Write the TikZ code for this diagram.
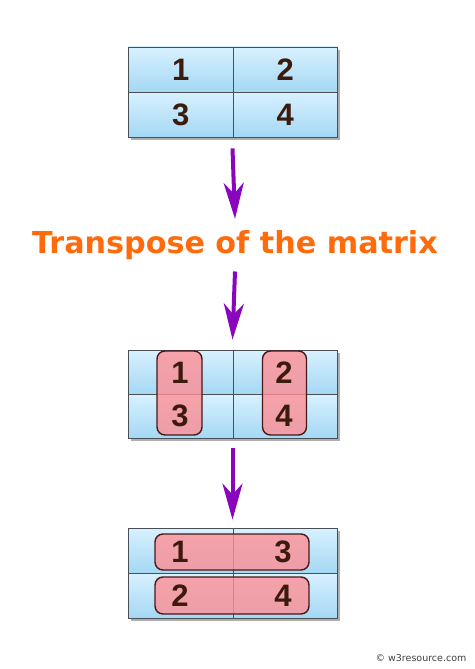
\documentclass[tikz,border=0pt]{standalone}
\usepackage{fontspec}
\setmainfont{Liberation Sans}
\newfontfamily\titlefont{DejaVu Sans}
\usetikzlibrary{arrows.meta,shadows}
\definecolor{cellTop}{HTML}{D8F1FF}
\definecolor{cellBot}{HTML}{A4D8F4}
\definecolor{gridc}{HTML}{4A4F55}
\definecolor{digit}{HTML}{3C1A0C}
\definecolor{pinkc}{HTML}{FE8F95}
\definecolor{pinkb}{HTML}{4A1818}
\definecolor{arrc}{HTML}{8A05BE}
\definecolor{titlec}{HTML}{FF6A0A}
\tikzset{
  frame/.style={draw=gridc, line width=0.8pt, fill=white, minimum width=209pt, minimum height=#1, inner sep=0pt,
    drop shadow={shadow xshift=3pt, shadow yshift=-3pt, opacity=0.45, fill=black!70}},
  cell/.style={draw=gridc, line width=0.6pt, top color=cellTop, bottom color=cellBot, minimum width=104.5pt, minimum height=#1, inner sep=0pt,
    font=\fontsize{31}{33}\selectfont\bfseries, text=digit},
  num/.style={font=\fontsize{31}{33}\selectfont\bfseries, text=digit, inner sep=0pt},
  pinkbox/.style={draw=pinkb, line width=1.4pt, fill=pinkc, fill opacity=0.8, rounded corners=8pt, inner sep=0pt},
  arr/.style={draw=arrc, line width=4pt, -{Stealth[length=36pt,width=20pt,inset=11pt]}},
}
\begin{document}
\begin{tikzpicture}[x=1pt,y=-1pt]
\useasboundingbox (0,0) rectangle (474,669);
% top matrix
\node[frame=90pt] (m1) at (232.5,92) {};
\node[cell=45pt] (a11) at (180.75,69.5) {1};
\node[cell=45pt] (a12) at (285.25,69.5) {2};
\node[cell=45pt] (a21) at (180.75,114.5) {3};
\node[cell=45pt] (a22) at (285.25,114.5) {4};
% title
\node[anchor=base, inner sep=0pt, text=titlec, font=\titlefont\fontsize{30.2}{33}\selectfont\bfseries] (title) at (235,253) {Transpose of the matrix};
% middle matrix
\node[frame=88pt] (m2) at (232.5,394) {};
\node[cell=44pt] (b11) at (180.75,372) {};
\node[cell=44pt] (b12) at (285.25,372) {};
\node[cell=44pt] (b21) at (180.75,416) {};
\node[cell=44pt] (b22) at (285.25,416) {};
\node[pinkbox, minimum width=45pt, minimum height=84pt] (p1) at (179.5,393) {};
\node[pinkbox, minimum width=44pt, minimum height=84pt] (p2) at (284.5,393) {};
\node[num] (n1) at (180,373) {1};
\node[num] (n3) at (180,416) {3};
\node[num] (n2) at (284,373) {2};
\node[num] (n4) at (284,416) {4};
% bottom matrix
\node[frame=90pt] (m3) at (232.5,573) {};
\node[cell=45pt] (c11) at (180.75,550.5) {};
\node[cell=45pt] (c12) at (285.25,550.5) {};
\node[cell=45pt] (c21) at (180.75,595.5) {};
\node[cell=45pt] (c22) at (285.25,595.5) {};
\node[pinkbox, minimum width=154pt, minimum height=36pt] (q1) at (232,552) {};
\node[pinkbox, minimum width=154pt, minimum height=37pt] (q2) at (232,595.5) {};
\node[num] (r1) at (180,552) {1};
\node[num] (r3) at (283,552) {3};
\node[num] (r2) at (180,595.5) {2};
\node[num] (r4) at (283,595.5) {4};
% arrows
\draw[arr] ([yshift=-11pt]m1.south) -- ([yshift=11pt]title.north);
\draw[arr] ([yshift=-12pt]title.south) -- ([yshift=10pt]m2.north);
\draw[arr] ([yshift=-10pt]m2.south) -- ([yshift=8pt]m3.north);
% footer
\node[text=black!75, font=\titlefont\fontsize{9.5}{11}\selectfont] (wm) at (421,658) {© w3resource.com};
\end{tikzpicture}
\end{document}
